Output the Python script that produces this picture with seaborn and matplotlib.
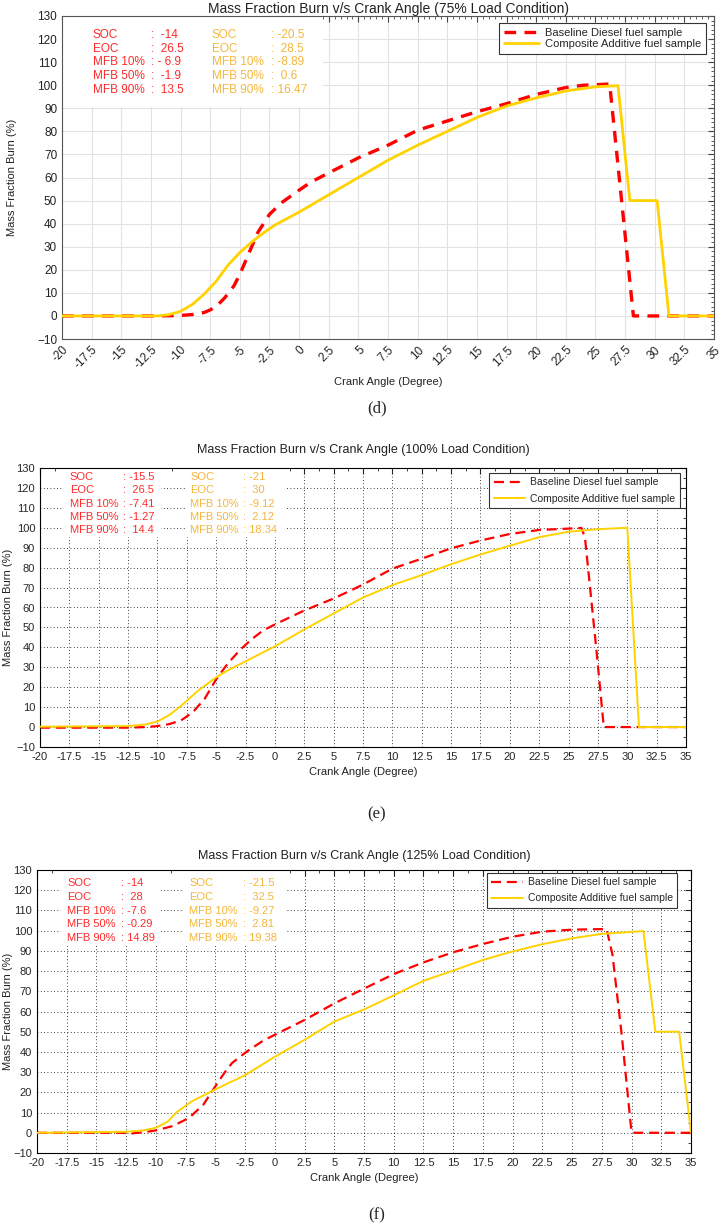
import matplotlib
matplotlib.use("Agg")
import matplotlib.pyplot as plt
import seaborn as sns
from matplotlib.ticker import MultipleLocator, FuncFormatter
from matplotlib.patches import Rectangle

# ---- Data ----
# (d) 75% load
base75_x = [-20, -12, -10, -9, -8, -7.5, -7, -6.25, -5.5, -5, -4.5, -4, -3.5, -3, -2.5, -1.5, 0, 1, 2.5, 5, 7.5, 10, 12.5, 15, 17.5, 20, 22.5, 24, 26.2, 28.2, 35]
base75_y = [0, 0, 0.2, 0.6, 1.5, 2.6, 4, 8, 13, 18, 24, 30, 36, 40, 44, 49, 54.5, 58, 62, 68.5, 74, 80.5, 84.5, 88.5, 92, 96, 99, 100, 100.5, 0, 0]
comp75_x = [-20, -12, -11, -10, -9, -8, -7, -6, -5, -4, -3, -2, 0, 2.5, 5, 7.5, 10, 12.5, 15, 17.5, 20, 22.5, 25, 26.9, 27.9, 30.2, 31.2, 35]
comp75_y = [0, 0, 0.5, 2, 5, 9.5, 15, 22, 27.5, 32, 36, 39.5, 45, 52.5, 60, 67.5, 74, 80, 86, 91, 94.5, 97.5, 99.3, 99.8, 50, 50, 0, 0]

# (e) 100% load
base100_x = [-20, -12.5, -11, -10, -9, -8, -7, -6, -5, -4, -3, -2, -1, 0, 2.5, 5, 7.5, 10, 12.5, 15, 17.5, 20, 22.5, 26.1, 26.4, 27.4, 28, 35]
base100_y = [-0.3, -0.3, 0, 0.5, 1.5, 3.3, 7.4, 14, 24, 32, 38.5, 44, 48.5, 51.5, 58.5, 64.5, 71.5, 79.5, 84.5, 89.7, 93.6, 96.9, 98.9, 99.9, 95, 37, 0, 0]
comp100_x = [-20, -12.5, -11, -10, -9, -8, -6.6, -5, -4, -2.5, 0, 2.5, 5, 7.5, 10, 12.5, 15, 17.5, 20, 22.5, 25, 27.5, 30, 31, 35]
comp100_y = [0.2, 0.5, 1.3, 2.8, 6, 10.6, 18, 25, 28.5, 33, 40.5, 49, 57, 65, 71.2, 76.3, 81.7, 86.6, 91, 95.3, 98, 99.3, 100, 0, 0]

# (f) 125% load
base125_x = [-20, -13, -12, -11, -10, -8.6, -7.2, -6, -5, -4.2, -3.6, -2.4, -1, 0, 2.5, 5, 7.5, 10, 12.5, 15, 17.5, 20, 22.5, 25, 27.9, 28.4, 29.2, 30, 35]
base125_y = [0, 0, -0.3, 0.3, 1.2, 3.3, 7.4, 14, 23, 30, 34.5, 40, 45.5, 48.5, 55.8, 64, 71.3, 78.5, 84.3, 89.3, 93.4, 97, 99.5, 100.5, 100.8, 88, 47, 0, 0]
comp125_x = [-20, -12.5, -11, -10, -9, -8.3, -7, -5, -2.5, 0, 2.5, 5, 7.5, 10, 12.5, 15, 17.5, 20, 22.5, 25, 27.5, 31, 32, 34, 35]
comp125_y = [0, 0.5, 1.2, 2.5, 5.5, 10, 15.5, 21.5, 28.5, 37.6, 46, 55, 61, 68, 75.2, 80.2, 85.5, 89.7, 93.3, 96.2, 98.4, 99.8, 50, 50, 0]

row_labels = ["SOC", "EOC", "MFB 10%", "MFB 50%", "MFB 90%"]
base75_vals = [":  -14", ":  26.5", ": - 6.9", ":  -1.9", ":  13.5"]
comp75_vals = [": -20.5", ":  28.5", ": -8.89", ":  0.6", ": 16.47"]
base100_vals = [": -15.5", ":  26.5", ": -7.41", ": -1.27", ":  14.4"]
comp100_vals = [": -21", ":  30", ": -9.12", ":  2.12", ": 18.34"]
base125_vals = [": -14", ":  28", ": -7.6", ": -0.29", ": 14.89"]
comp125_vals = [": -21.5", ":  32.5", ": -9.27", ":  2.81", ": 19.38"]

RED = "#ff0000"
YEL = "#ffd200"
RED_TXT = "#ff2a2a"
YEL_TXT = "#f4b63c"

sns.set_style("white")
plt.rcParams["font.family"] = ["Liberation Sans", "DejaVu Sans"]

fig = plt.figure(figsize=(7.26, 12.27), dpi=100)


def px_axes(l, r, t, b):
    return fig.add_axes([l / 726, 1 - b / 1227, (r - l) / 726, (b - t) / 1227])


def draw(ax, bx, by, cx, cy, bvals, cvals, title, new_style, rows, leg_anchor, title_pad):
    lw_b = 2.4 if new_style else 1.6
    lw_c = 2.0 if new_style else 1.4
    sns.lineplot(x=bx, y=by, ax=ax, color=RED, lw=lw_b, estimator=None, sort=False,
                 label="Baseline Diesel fuel sample", zorder=2)
    ax.lines[-1].set_dashes([3.5, 2.5] if new_style else [4.5, 2.6])
    sns.lineplot(x=cx, y=cy, ax=ax, color=YEL, lw=lw_c, estimator=None, sort=False,
                 label="Composite Additive fuel sample", zorder=3)

    ax.set_xlim(-20, 35)
    ax.set_ylim(-10, 130)
    ax.xaxis.set_major_locator(MultipleLocator(2.5))
    ax.yaxis.set_major_locator(MultipleLocator(10))
    ax.xaxis.set_major_formatter(FuncFormatter(lambda v, p: "%g" % v))
    ax.set_axisbelow(True)

    if new_style:
        ax.xaxis.set_minor_locator(MultipleLocator(0.5))
        ax.yaxis.set_minor_locator(MultipleLocator(2))
        ax.grid(True, which="major", color="#e2e2e2", lw=0.8)
        for s in ax.spines.values():
            s.set_color("#555555")
            s.set_linewidth(0.8)
        ax.tick_params(which="both", direction="in", top=True, right=True, colors="#444444",
                       labelcolor="#222222", labelsize=8.5)
        ax.tick_params(which="major", length=4)
        ax.tick_params(which="minor", length=2)
        for lab in ax.get_xticklabels():
            lab.set_rotation(45)
            lab.set_ha("right")
            lab.set_va("top")
            lab.set_rotation_mode("anchor")
        fs_txt, fs_leg, fs_title = 8.5, 8, 10
        xs = (-17.4, -12.5, -7.35, -2.4)
        ax.add_patch(Rectangle((-20, 90.5), 22, 39.5, facecolor="white", edgecolor="none", zorder=1))
        hl, ls, bp = 3.2, 0.1, 0.45
    else:
        ax.xaxis.set_minor_locator(MultipleLocator(1.25))
        ax.yaxis.set_minor_locator(MultipleLocator(5))
        ax.grid(True, which="major", color="black", lw=0.6, linestyle=(0, (1, 3)))
        for s in ax.spines.values():
            s.set_color("black")
            s.set_linewidth(0.8)
        ax.tick_params(which="both", direction="in", top=True, right=True, labelsize=8)
        ax.tick_params(which="major", length=4)
        ax.tick_params(which="minor", length=2)
        fs_txt, fs_leg, fs_title = 8, 7.5, 9
        xs = (-17.45, -12.9, -7.2, -2.7)
        lo = rows[-1] - 3.5
        ax.add_patch(Rectangle((-18.0, lo), 8.3, 129.5 - lo, facecolor="white", edgecolor="none", zorder=1))
        ax.add_patch(Rectangle((-7.6, lo), 8.6, 129.5 - lo, facecolor="white", edgecolor="none", zorder=1))
        hl, ls, bp = 3.0, 0.6, 0.42

    for i, lab in enumerate(row_labels):
        ax.text(xs[0], rows[i], lab, color=RED_TXT, fontsize=fs_txt, va="center", zorder=4)
        ax.text(xs[1], rows[i], bvals[i], color=RED_TXT, fontsize=fs_txt, va="center", zorder=4)
        ax.text(xs[2], rows[i], lab, color=YEL_TXT, fontsize=fs_txt, va="center", zorder=4)
        ax.text(xs[3], rows[i], cvals[i], color=YEL_TXT, fontsize=fs_txt, va="center", zorder=4)

    leg = ax.legend(loc="upper right", bbox_to_anchor=leg_anchor, fontsize=fs_leg,
                    handlelength=hl, handletextpad=0.5, frameon=True, fancybox=False,
                    framealpha=1, borderpad=bp, labelspacing=ls, borderaxespad=0)
    leg.get_frame().set_edgecolor("#333333")
    leg.get_frame().set_linewidth(0.8)

    ax.set_title(title, fontsize=fs_title, color="#222222", pad=title_pad)
    ax.set_xlabel("Crank Angle (Degree)", fontsize=8, color="#222222")
    ax.set_ylabel("Mass Fraction Burn (%)", fontsize=8, color="#222222")


ax_d = px_axes(62, 714, 16, 339)
draw(ax_d, base75_x, base75_y, comp75_x, comp75_y, base75_vals, comp75_vals,
     "Mass Fraction Burn v/s Crank Angle (75% Load Condition)", True,
     [121.7, 115.8, 109.9, 104.0, 98.1], (0.988, 0.978), 2)
ax_d.xaxis.labelpad = 4
ax_d.yaxis.set_label_coords(-0.069, 0.5)

ax_e = px_axes(40, 686, 468, 747)
draw(ax_e, base100_x, base100_y, comp100_x, comp100_y, base100_vals, comp100_vals,
     "Mass Fraction Burn v/s Crank Angle (100% Load Condition)", False,
     [125.5, 118.8, 112.1, 105.4, 98.7], (0.99, 0.982), 11)
ax_e.xaxis.labelpad = 4
ax_e.yaxis.set_label_coords(-0.042, 0.5)

ax_f = px_axes(37, 691, 870, 1153)
draw(ax_f, base125_x, base125_y, comp125_x, comp125_y, base125_vals, comp125_vals,
     "Mass Fraction Burn v/s Crank Angle (125% Load Condition)", False,
     [123.5, 116.7, 109.9, 103.1, 96.3], (0.979, 0.99), 8)
ax_f.xaxis.labelpad = 4
ax_f.yaxis.set_label_coords(-0.037, 0.5)

for lab, y in [("(d)", 408), ("(e)", 814), ("(f)", 1215)]:
    fig.text(377 / 726, 1 - y / 1227, lab, ha="center", va="center", fontsize=12,
             family=["Liberation Serif", "DejaVu Serif"])

fig.savefig("out.png", dpi=100)
